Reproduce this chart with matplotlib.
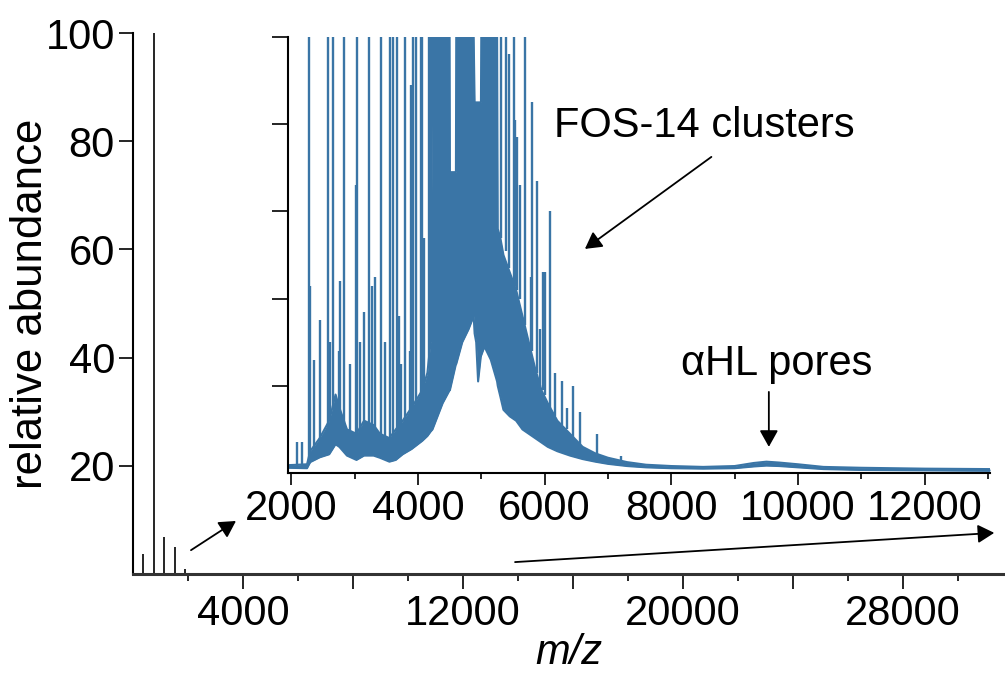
import numpy as np
import matplotlib.pyplot as plt

plt.rcParams['font.family'] = ['Liberation Sans', 'DejaVu Sans']
plt.rcParams['font.size'] = 30

# full-range spectrum, stick peaks
full_mz = [364, 764, 1127, 1527, 1891]
full_ab = [3.7, 100, 6.8, 5.0, 1.0]

# zoomed region: lower / upper edge of the dense cluster signal
env_mz = [1950, 2250, 2300, 2450, 2600, 2700, 2760, 2880, 3030, 3150,
          3300, 3400, 3550, 3650, 3760, 3900, 4070, 4150, 4200, 4230,
          4390, 4500, 4505, 4600, 4605, 4700, 4800, 4880, 4895, 4920,
          4950, 4995, 5000, 5050, 5150, 5250, 5260, 5300, 5350, 5450,
          5550, 5650, 5750, 5850, 5950, 6050, 6200, 6400, 6600, 6800,
          7000, 7300, 7600, 8000, 8500, 9000, 9300, 9500, 9700, 10000,
          10400, 11000, 12000, 13030]
env_lo = [1.2, 1.1, 2.5, 3.6, 4.3, 6.6, 6.0, 4.0, 3.0, 4.0,
          4.0, 3.5, 2.6, 3.0, 4.3, 5.5, 7.4, 8.5, 9.5, 10,
          16, 19, 19, 25, 25, 30, 33, 36, 32, 30,
          21, 27, 27, 29, 26, 21, 20, 17.6, 14.5, 13,
          12, 10, 9, 8, 7, 6, 5, 4, 3.2, 2.6,
          2.1, 1.6, 1.3, 1.1, 1.0, 1.1, 1.5, 1.7, 1.6, 1.3,
          0.9, 0.7, 0.6, 0.5]
env_hi = [1.8, 2.0, 5, 8, 12, 18, 15, 10, 9, 12,
          11, 9, 8, 10, 12, 15, 19, 23, 30, 100,
          100, 100, 69, 69, 100, 100, 100, 100, 85, 85,
          85, 85, 100, 100, 100, 100, 56, 54, 50, 46,
          42, 36, 30, 24, 19, 16, 12, 9, 6, 4.5,
          3.5, 2.5, 1.9, 1.6, 1.4, 1.6, 2.3, 2.6, 2.4, 2.0,
          1.4, 1.2, 1.0, 0.9]

# single cluster peaks standing out of the envelope
pk_mz = [2084, 2172, 2277, 2292, 2355, 2460, 2574, 2616, 2658, 2747,
         2773, 2836, 2930, 3024, 3044, 3086, 3149, 3222, 3269, 3326,
         3415, 3478, 3556, 3608, 3671, 3702, 3739, 3790, 3870, 3895,
         3920, 3974, 4042, 4068, 4100, 4172, 4200, 5310, 5389, 5440,
         5519, 5540, 5560, 5612, 5692, 5780, 5794, 5881, 5932, 5975,
         6000, 6082, 6167, 6272, 6350, 6454, 6559, 6830, 7211]
pk_top = [7, 7, 100, 43, 26, 35, 100, 30, 100, 28,
          44, 100, 25, 66, 100, 30, 37, 100, 43, 45,
          100, 30, 100, 100, 100, 36, 25, 100, 28, 89,
          100, 100, 100, 100, 54, 100, 100, 100, 100, 96,
          100, 81, 77, 66, 100, 45, 85, 67, 33, 46,
          46, 60, 23, 21, 15, 20, 14, 9, 4]
pk_base = [1.5, 1.5, 2, 3, 5, 7, 10, 12, 15, 15,
           13, 11, 9, 8, 8, 9, 11, 11, 10, 10,
           8, 7.5, 7, 8, 9, 9.5, 10, 11, 13, 14,
           14, 15, 17, 18, 19, 24, 30, 54, 51, 47,
           43, 43, 42, 40, 34, 28, 28, 23, 20, 19,
           18, 15, 13, 11, 10, 8, 6.5, 4.3, 2.7]

blue = '#3a75a6'

fig = plt.figure(figsize=(10.05, 6.74), dpi=100)

# main panel
ax = fig.add_axes([0.1323, 0.1484, 0.8677, 0.8026])
ax.vlines(full_mz, 0, full_ab, color='k', lw=1.2)
ax.set_xlim(0, 31700)
ax.set_ylim(0, 100)
ax.spines[['top', 'right']].set_visible(False)
ax.spines['left'].set_linewidth(1.5)
ax.spines['bottom'].set_linewidth(2.2)
ax.spines['bottom'].set_color('#333333')
ax.set_yticks([20, 40, 60, 80, 100])
ax.set_xticks(np.arange(4000, 31000, 4000))
ax.set_xticklabels(['4000', '', '12000', '', '20000', '', '28000'])
ax.set_xticks(np.arange(2000, 31000, 4000), minor=True)
ax.tick_params(axis='y', length=10, width=1.2, pad=3)
ax.tick_params(axis='x', which='major', length=10.5, width=1.2, pad=4)
ax.tick_params(axis='x', which='minor', length=5, width=1.2)
ax.set_xlabel('m/z', style='italic', labelpad=-1)
ax.set_ylabel('relative abundance', fontsize=31.5, labelpad=-4)

ax.annotate('', xy=(3745, 9.8), xytext=(2109, 4.4),
            arrowprops=dict(arrowstyle='-|>,head_length=0.5,head_width=0.28',
                            mutation_scale=20, color='k', lw=1.3,
                            shrinkA=0, shrinkB=0), annotation_clip=False)
ax.annotate('', xy=(31310, 7.6), xytext=(13890, 2.2),
            arrowprops=dict(arrowstyle='-|>,head_length=0.5,head_width=0.28',
                            mutation_scale=20, color='k', lw=1.3,
                            shrinkA=0, shrinkB=0), annotation_clip=False)

# zoomed inset 2000-13000
ins = fig.add_axes([0.2866, 0.2982, 0.6985, 0.6469])
ins.patch.set_alpha(0)
ins.fill_between(env_mz, env_lo, env_hi, color=blue, lw=0)
ins.plot(env_mz, env_lo, color=blue, lw=1.5)
ins.plot(env_mz, env_hi, color=blue, lw=1.5)
ins.vlines(pk_mz, pk_base, pk_top, color=blue, lw=1.7)
ins.set_xlim(1950, 13030)
ins.set_ylim(0, 100)
ins.spines[['top', 'right']].set_visible(False)
ins.spines['left'].set_linewidth(1.5)
ins.spines['bottom'].set_linewidth(1.5)
ins.set_yticks([20, 40, 60, 80, 100])
ins.set_yticklabels([])
ins.set_xticks(np.arange(2000, 13000, 2000))
ins.set_xticks(np.arange(3000, 14000, 2000), minor=True)
ins.tick_params(axis='y', length=11.5, width=1.2)
ins.tick_params(axis='x', which='major', length=8.5, width=1.2, pad=3)
ins.tick_params(axis='x', which='minor', length=4.3, width=1.2)

ins.text(8522, 77.1, 'FOS-14 clusters', ha='center', va='baseline')
ins.annotate('', xy=(6636, 51.4), xytext=(8632, 72.5),
             arrowprops=dict(arrowstyle='-|>,head_length=0.5,head_width=0.28',
                             mutation_scale=20, color='k', lw=1.3,
                             shrinkA=0, shrinkB=0))
ins.text(9662, 22.5, 'αHL pores', ha='center', va='baseline')
ins.annotate('', xy=(9539, 6.0), xytext=(9539, 18.6),
             arrowprops=dict(arrowstyle='-|>,head_length=0.5,head_width=0.28',
                             mutation_scale=20, color='k', lw=1.3,
                             shrinkA=0, shrinkB=0))

fig.savefig('out.png', dpi=100)
